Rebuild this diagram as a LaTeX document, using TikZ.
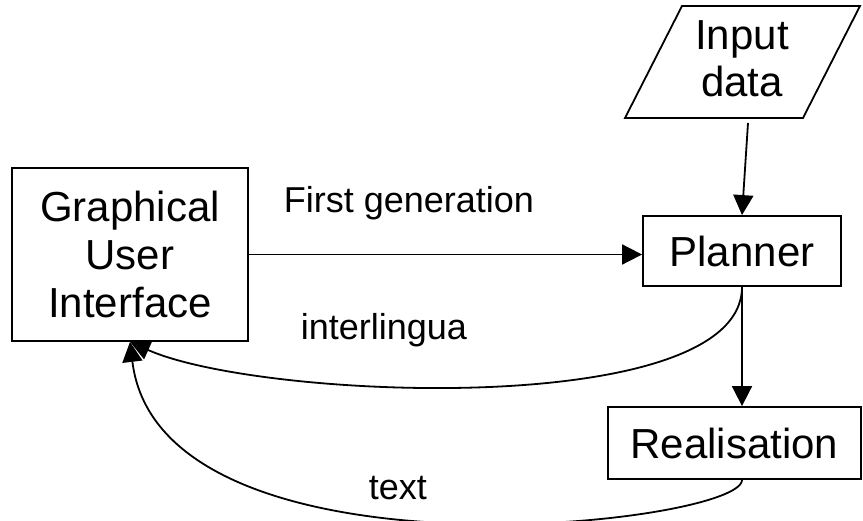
\documentclass[tikz,border=0pt]{standalone}
\usepackage{fontspec}
\setmainfont{Liberation Sans}
\usetikzlibrary{arrows.meta}
\begin{document}
\begin{tikzpicture}[x=1pt,y=-1pt,line width=1.8pt,
  boxnode/.style={draw,line width=1.8pt,font=\fontsize{42}{48}\selectfont,align=center,inner sep=0pt},
  lbl/.style={font=\fontsize{36}{42}\selectfont,anchor=base west,inner sep=0pt},
  arr/.style={-{Triangle[length=20pt,width=20pt]},line width=1.8pt}]
\useasboundingbox (0,0) rectangle (863,521);
\node[boxnode,minimum width=236pt,minimum height=173pt] (gui) at (130,254.5) {Graphical\\User\\Interface};
\node[boxnode,minimum width=198pt,minimum height=70pt] (pl) at (742,251) {Planner};
\node[boxnode,minimum width=253pt,minimum height=72pt] (re) at (734.5,443) {Realisation};
\draw (682,6) -- (860,6) -- (803,118) -- (625,118) -- cycle;
\node[font=\fontsize{42}{47}\selectfont,align=center,inner sep=0pt] (inp) at (742,58.5) {Input\\data};
\coordinate (inpb) at (748,123);
\draw[arr] (inpb) -- (pl.north);
\draw[arr] (gui.east) -- (gui.east -| pl.west);
\draw[arr] (pl.south) -- (pl.south |- re.north);
\draw[arr] (pl.south) .. controls (742,420) and (260,400) .. (gui.south);
\draw[arr] (pl.south |- re.south) .. controls (742,525) and (160,590) .. (gui.south);
\node[lbl] (l1) at (283,213) {First generation};
\node[lbl] (l2) at (300,340) {interlingua};
\node[lbl] (l3) at (368,500) {text};
\end{tikzpicture}
\end{document}
